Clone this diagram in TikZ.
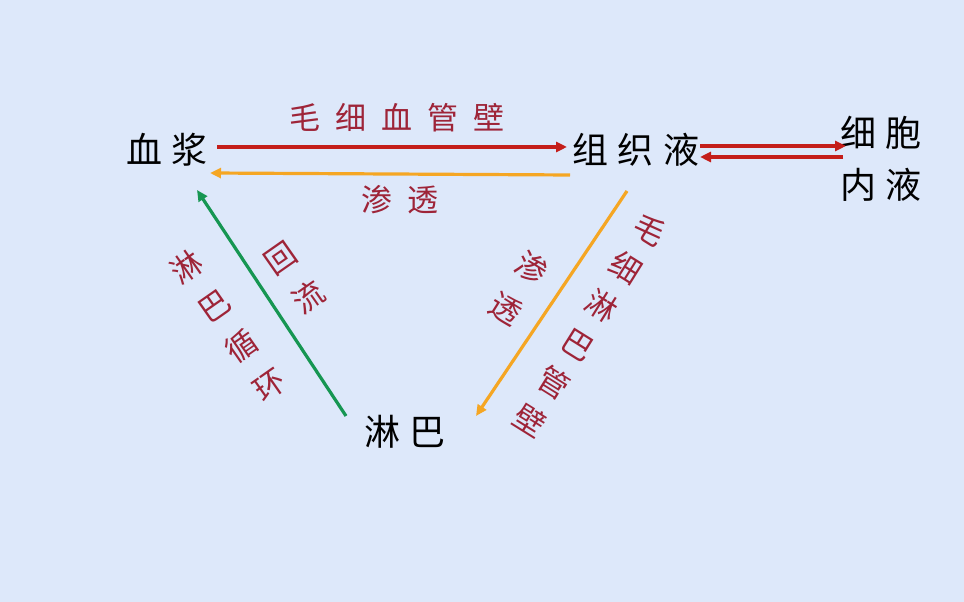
\documentclass[tikz,border=0pt]{standalone}
\usepackage{fontspec}
\newfontfamily\cjk{Noto Sans CJK SC}
\usetikzlibrary{arrows.meta}
\definecolor{bgc}{RGB}{221,232,250}
\definecolor{labred}{RGB}{158,36,56}
\definecolor{arrred}{RGB}{196,30,26}
\definecolor{arrorange}{RGB}{245,166,35}
\definecolor{arrgreen}{RGB}{22,150,82}
\newcommand\gA{\hspace{10pt}}
\newcommand\gB{\hspace{15pt}}
\tikzset{
  term/.style={font={\cjk\fontsize{36}{52}\selectfont}, text=black, inner sep=0pt, align=center},
  lab/.style={font={\cjk\fontsize{31}{48}\selectfont}, text=labred, inner sep=0pt, align=center},
  conn/.style={line width=3.2pt, -{Triangle[length=11pt,width=10pt]}},
  redc/.style={conn, draw=arrred},
  orangec/.style={conn, draw=arrorange},
  greenc/.style={conn, draw=arrgreen},
}
\begin{document}
\begin{tikzpicture}[x=1pt,y=1pt]
\fill[bgc] (0,0) rectangle (964,602);
\useasboundingbox (0,0) rectangle (964,602);
% terms
\node[term] (pl) at (167,452) {血\gA 浆};
\node[term] (tf) at (636,452) {组\gA 织\gA 液};
\node[term] (ic) at (881,443) {细\gA 胞\\内\gA 液};
\node[term] (ly) at (405,170) {淋\gA 巴};
% connector end points
\coordinate (a1) at (217,455);
\coordinate (a2) at (567,455);
\coordinate (b1) at (570,427);
\coordinate (b2) at (210,429);
\coordinate (c1) at (700,456);
\coordinate (c2) at (846,456);
\coordinate (d1) at (843,445);
\coordinate (d2) at (700,445);
\coordinate (e1) at (346,186);
\coordinate (e2) at (197,412);
\coordinate (f1) at (627,411);
\coordinate (f2) at (476,186);
% connectors
\draw[redc] (a1) -- (a2);
\draw[orangec] (b1) -- (b2);
\draw[redc] (c1) -- (c2);
\draw[redc] (d1) -- (d2);
\draw[greenc] (e1) -- (e2);
\draw[orangec] (f1) -- (f2);
% labels
\node[lab] (l1) at (397,484) {毛\gB 细\gB 血\gB 管\gB 壁};
\node[lab] (l2) at (400,402) {渗\gB 透};
\node[lab, rotate=35] (l3) at (228,276) {淋\\巴\\循\\环};
\node[lab, rotate=35] (l4) at (295,324) {回\\流};
\node[lab, rotate=-32] (l5) at (519,314) {渗\\透};
\node[lab, rotate=-32, font={\cjk\fontsize{31}{45}\selectfont}] (l6) at (590,277) {毛\\细\\淋\\巴\\管\\壁};
\end{tikzpicture}
\end{document}
